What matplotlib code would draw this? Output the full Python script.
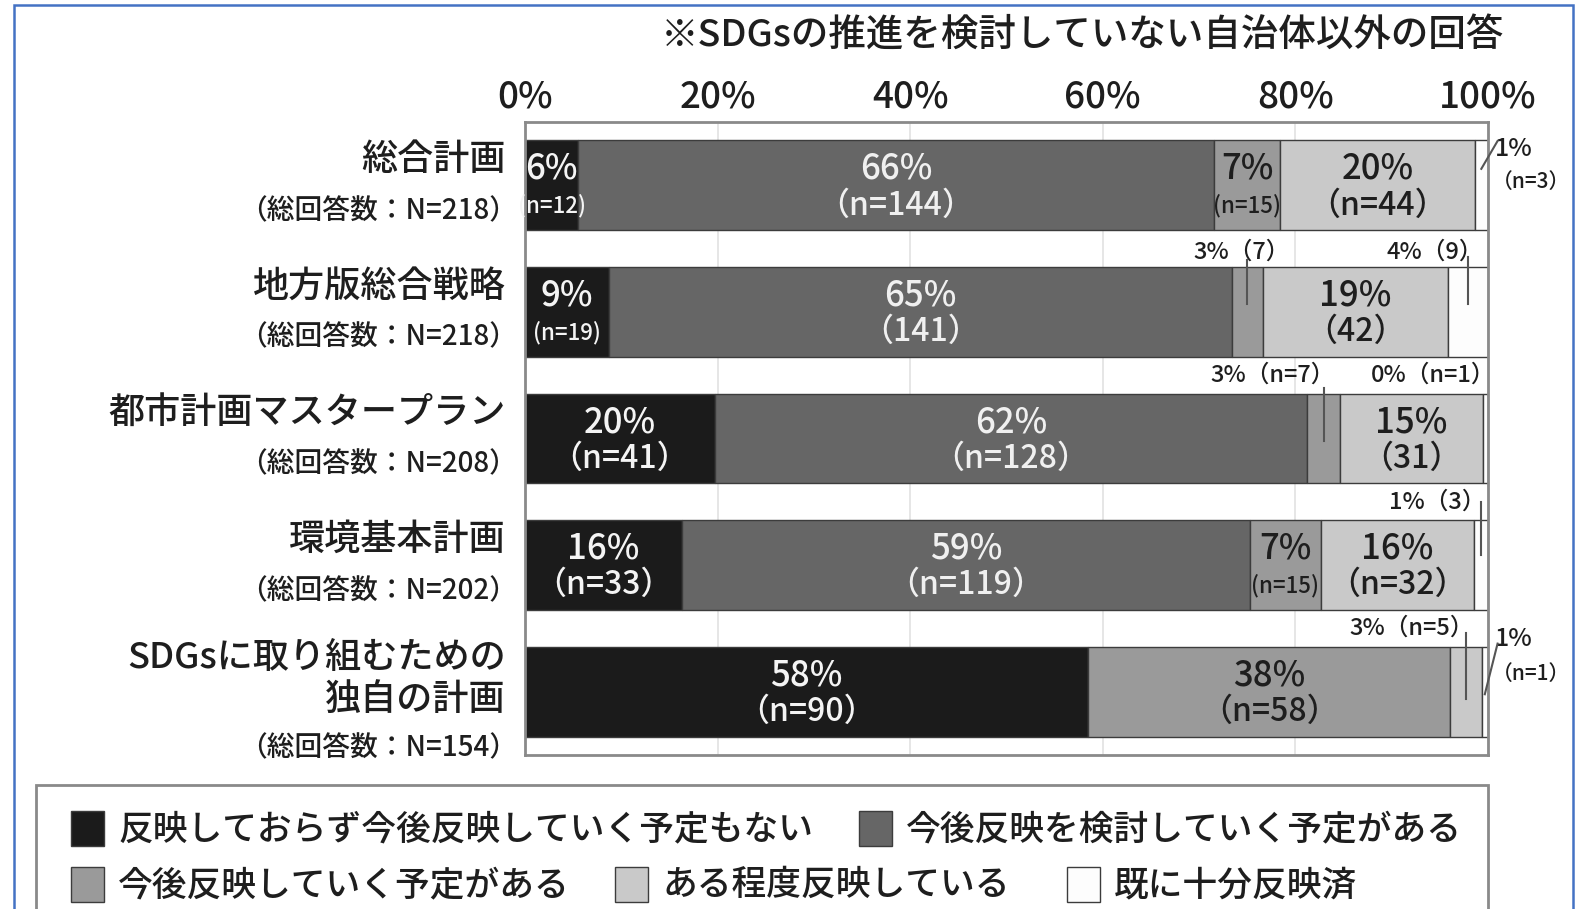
# -*- coding: utf-8 -*-
import matplotlib
matplotlib.use('Agg')
import matplotlib.pyplot as plt
from matplotlib.patches import Rectangle
import numpy as np

plt.rcParams['font.family'] = ['Noto Sans CJK JP', 'DejaVu Sans']
plt.rcParams['font.weight'] = 'medium'

title = '※SDGsの推進を検討していない自治体以外の回答'
categories = ['総合計画', '地方版総合戦略', '都市計画マスタープラン', '環境基本計画',
              'SDGsに取り組むための\n独自の計画']
totals = [218, 218, 208, 202, 154]
series = ['反映しておらず今後反映していく予定もない', '今後反映を検討していく予定がある',
          '今後反映していく予定がある', 'ある程度反映している', '既に十分反映済']
no_plan = [12, 19, 41, 33, 90]
considering = [144, 141, 128, 119, 0]
planned = [15, 7, 7, 15, 58]
partly = [44, 42, 31, 32, 5]
fully = [3, 9, 1, 3, 1]
ticks = [0, 20, 40, 60, 80, 100]

pct_labels = [['6%', '66%', '7%', '20%', None],
              ['9%', '65%', None, '19%', None],
              ['20%', '62%', None, '15%', None],
              ['16%', '59%', '7%', '16%', None],
              ['58%', None, '38%', None, None]]
n_labels = [['(n=12)', '（n=144）', '(n=15)', '（n=44）', None],
            ['(n=19)', '（141）', None, '（42）', None],
            ['（n=41）', '（n=128）', None, '（31）', None],
            ['（n=33）', '（n=119）', '(n=15)', '（n=32）', None],
            ['（n=90）', None, '（n=58）', None, None]]
small_n = {(0, 0), (0, 2), (1, 0), (3, 2)}

colors = ['#1b1b1b', '#666666', '#9a9a9a', '#c9c9c9', '#fdfdfd']
text_colors = ['#f4f4f4', '#f0f0f0', '#1e1e1e', '#1e1e1e', '#1e1e1e']
ink = '#1e1e1e'

counts = np.array([no_plan, considering, planned, partly, fully], dtype=float)
shares = counts / np.array(totals) * 100
y = np.arange(len(categories))

fig = plt.figure(figsize=(15.89, 9.09), dpi=100)
ax = fig.add_axes([0.3304, 0.1694, 0.6060, 0.6964])

left = np.zeros(len(categories))
for k in range(len(series)):
    ax.barh(y, shares[k], left=left, height=0.71, color=colors[k],
            edgecolor='#3c3c3c', linewidth=1.0, zorder=2)
    for i in range(len(categories)):
        cx = left[i] + shares[k][i] / 2
        if pct_labels[i][k]:
            ax.text(cx, i - 0.13, pct_labels[i][k], ha='center', va='center',
                    fontsize=25, color=text_colors[k], zorder=4)
        if n_labels[i][k]:
            fs = 16 if (i, k) in small_n else 23
            ax.text(cx, i + 0.16, n_labels[i][k], ha='center', va='center',
                    fontsize=fs, color=text_colors[k], zorder=4)
    left += shares[k]

starts = np.cumsum(shares, axis=0) - shares
centers = starts + shares / 2


def callout(row, seg, text, tx, ty, y0, y1, fs=17):
    cx = centers[seg][row]
    ax.text(tx, row + ty, text, ha='center', va='center', fontsize=fs,
            color=ink, zorder=4, clip_on=False)
    if y0 is not None:
        ax.plot([cx, cx], [row + y0, row + y1], color='#555555', lw=1.5,
                zorder=5, clip_on=False)


callout(1, 2, '3%（7）', 74.4, -0.47, -0.41, -0.06)
callout(1, 4, '4%（9）', 94.5, -0.47, -0.43, -0.06)
callout(2, 2, '3%（n=7）', 77.6, -0.50, -0.40, 0.02)
callout(2, 4, '0%（n=1）', 94.3, -0.50, None, None)
callout(3, 4, '1%（3）', 94.7, -0.50, -0.50, -0.08)
callout(4, 3, '3%（n=5）', 92.1, -0.50, -0.46, 0.06)

# slanted callouts right of the frame
for row, yt, yb, ytxt, ntxt, n_y in [(0, -0.35, -0.13, -0.29, '（n=3）', -0.03),
                                      (4, -0.38, 0.02, -0.42, '（n=1）', -0.14)]:
    cx = centers[4][row]
    ax.plot([cx, 101.0], [row + yb, row + yt], color='#555555', lw=1.5,
            zorder=5, clip_on=False)
    ax.text(100.7, row + ytxt, '1%', ha='left', va='center', fontsize=18,
            color=ink, clip_on=False)
    ax.text(100.4, row + n_y, ntxt, ha='left', va='center', fontsize=15,
            color=ink, clip_on=False)

# category labels
for i, (name, n) in enumerate(zip(categories, totals)):
    multi = '\n' in name
    ax.text(-0.02, i - (0.10 if multi else 0.20), name, transform=ax.get_yaxis_transform(),
            ha='right', va='center', fontsize=26, color=ink, linespacing=1.2)
    ax.text(-0.008, i + (0.44 if multi else 0.20), f'（総回答数：N={n}）',
            transform=ax.get_yaxis_transform(), ha='right', va='center',
            fontsize=20, color=ink)

ax.set_xlim(0, 100)
ax.set_ylim(len(categories) - 0.5, -0.5)
ax.xaxis.tick_top()
ax.set_xticks(ticks)
ax.set_xticklabels([f'{t}%' for t in ticks], fontsize=26.5, color=ink)
ax.tick_params(axis='x', length=0, pad=5)
ax.set_yticks([])
ax.grid(axis='x', color='#e2e2e2', lw=1.2, zorder=0)
for s in ax.spines.values():
    s.set_color('#8a8a8a')
    s.set_linewidth(2)

fig.text(0.681, 0.961, title, ha='center', va='center', fontsize=27, color=ink)

# legend box
fig.add_artist(Rectangle((0.0227, -0.05), 0.9138, 0.1864, transform=fig.transFigure,
                         fill=False, edgecolor='#8a8a8a', lw=2))
leg_items = [(71, 829), (859, 829), (71, 885), (615, 885), (1067, 885)]
W, H = 1589.0, 909.0
for k, (px, py) in enumerate(leg_items):
    fig.add_artist(Rectangle((px / W, (H - py - 17) / H), 33 / W, 35 / H,
                             transform=fig.transFigure, facecolor=colors[k],
                             edgecolor='#3c3c3c', lw=1))
    fig.text((px + 47) / W, (H - py) / H, series[k], ha='left', va='center',
             fontsize=25, color=ink)

# outer blue frame
fig.add_artist(Rectangle((14 / W, -0.05), (1573 - 14) / W, 1.05 - 5 / H,
                         transform=fig.transFigure, fill=False,
                         edgecolor='#4472c4', lw=1.8))

fig.savefig('out.png', dpi=100, facecolor='white')
